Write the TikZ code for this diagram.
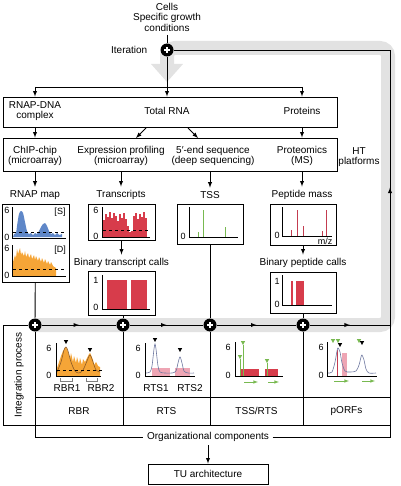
\documentclass[tikz,border=0pt]{standalone}
\usepackage{fontspec}
\setmainfont{Liberation Sans}
\usepackage{xcolor}
\usepackage{tikz}
\usetikzlibrary{arrows,positioning,decorations.markings}

\definecolor{loopgray}{RGB}{226,226,226}
\definecolor{chipblue}{RGB}{95,135,200}
\definecolor{chiporange}{RGB}{245,165,55}
\definecolor{exprred}{RGB}{215,60,75}
\definecolor{peakred}{RGB}{195,60,80}
\definecolor{tssgreen}{RGB}{120,185,80}
\definecolor{rtspink}{RGB}{238,165,180}
\definecolor{curvegray}{RGB}{110,120,160}
\definecolor{rbrbrown}{RGB}{140,90,40}

\tikzset{
  box/.style={draw, line width=0.9pt, inner sep=0pt},
  plusnode/.style={circle, fill=black, minimum size=13pt, inner sep=0pt,
    path picture={
      \draw[white, line width=1.3pt] ([xshift=-3pt]path picture bounding box.center) -- ([xshift=3pt]path picture bounding box.center);
      \draw[white, line width=1.3pt] ([yshift=-3pt]path picture bounding box.center) -- ([yshift=3pt]path picture bounding box.center);}},
  midarrow/.style={decoration={markings, mark=at position 0.5 with {\arrow{latex}}}, postaction={decorate}},
  ticklbl/.style={font=\fontsize{9}{9}\selectfont, inner sep=0pt},
  axis/.style={line width=0.7pt},
}

\newcommand{\peakmark}[3]{\fill[#3] (#1-2.2,#2-2) -- (#1+2.2,#2-2) -- (#1,#2+2) -- cycle;}

\begin{document}
\begin{tikzpicture}[x=1pt, y=-1pt, >=latex, line width=0.9pt,
  every node/.style={font=\fontsize{10}{10.5}\selectfont}]
    \useasboundingbox (0,0) rectangle (400,486);

    % iteration loop
    \draw[loopgray, line width=14pt, rounded corners=8pt] (35,325) -- (388,325) -- (388,48) -- (167,48) -- (167,65);
    \fill[loopgray] (151,64) -- (183,64) -- (167,82) -- cycle;

    % input
    \node[align=center] (cells) at (167,17) {Cells\\Specific growth\\conditions};
    \node[plusnode] (iter) at (167,50) {};
    \node[left=9pt of iter] (iterlbl) {Iteration};
    \draw (cells) -- (iter);

    % samples
    \node[box, minimum width=334pt, minimum height=30pt] (sources) at (170,112) {};
    \node[align=center] (rnapdna) at (35,111) {RNAP-DNA\\complex};
    \node (totalrna) at (167,111) {Total RNA};
    \node (proteins) at (302,111) {Proteins};

    \coordinate (split) at (167,87);
    \draw[->] (iter) -- (iter |- sources.north);
    \draw (rnapdna |- split) -- (proteins |- split);
    \draw[->] (rnapdna |- split) -- (rnapdna |- sources.north);
    \draw[->] (proteins |- split) -- (proteins |- sources.north);

    % HT platforms
    \node[box, minimum width=334pt, minimum height=33pt] (platforms) at (170,154.5) {};
    \node[align=center] (chip) at (35,156) {ChIP-chip\\(microarray)};
    \node[align=center] (expr) at (121,156) {Expression profiling\\(microarray)};
    \node[align=center] (deepseq) at (213,156) {5′-end sequence\\(deep sequencing)};
    \node[align=center] (ms) at (302,156) {Proteomics\\(MS)};
    \node[align=center] (htlbl) at (359,157) {HT\\platforms};

    \coordinate (rnal) at (146,128); \coordinate (exprin) at (136,138);
    \coordinate (rnar) at (188,128); \coordinate (seqin) at (198,138);
    \draw[->] (chip |- sources.south) -- (chip |- platforms.north);
    \draw[->] (rnal) -- (exprin);
    \draw[->] (rnar) -- (seqin);
    \draw[->] (ms |- sources.south) -- (ms |- platforms.north);

    % raw data
    \node (rnapmap) at (35,195) {RNAP map};
    \node (transcripts) at (121,195) {Transcripts};
    \node (tsslbl) at (210,195) {TSS};
    \node (pepmass) at (302,195) {Peptide mass};
    \draw[->] (chip |- platforms.south) -- (rnapmap);
    \draw[->] (expr |- platforms.south) -- (transcripts);
    \draw[->] (tsslbl |- platforms.south) -- (tsslbl);
    \draw[->] (ms |- platforms.south) -- (pepmass);

    \node[box, minimum width=67pt, minimum height=78pt] (rnapbox) at (35.5,243) {};
    \node[box, minimum width=67pt, minimum height=36pt] (transbox) at (121.5,222) {};
    \node[box, minimum width=66pt, minimum height=40pt] (tssbox) at (210,224) {};
    \node[box, minimum width=66pt, minimum height=41pt] (pepbox) at (303,224.5) {};

    \node (bincallslbl) at (121.5,263) {Binary transcript calls};
    \node (binpeplbl) at (303,263) {Binary peptide calls};
    \draw[->] (transbox) -- (bincallslbl);
    \draw[->] (pepbox) -- (binpeplbl);
    \node[box, minimum width=67pt, minimum height=44pt] (binbox) at (121.5,293) {};
    \node[box, minimum width=66pt, minimum height=41pt] (binpepbox) at (303,292.5) {};

    %% RNAP map [S]
    \fill[chipblue] (13,237) -- plot[smooth] coordinates {(14,234) (16,233) (17,226) (19,214) (21,211) (23,213) (25,222) (27,231) (29,234) (31,233) (33,235) (35,233) (37,234) (39,231) (41,227) (43,224) (45,223) (47,226) (49,231) (51,234) (53,233) (55,235) (57,233) (59,235) (62,234)} -- (62,237) -- cycle;
    \draw[dashed, axis] (13,232) -- (65,232);
    \draw[axis] (12,207) -- (12,238) -- (66,238);
    \node[ticklbl] at (7,210) {6};
    \node[ticklbl] at (7,237) {0};
    \node[ticklbl] at (60,212) {[S]};
    %% RNAP map [D]
    \fill[chiporange] (13,276) -- (13,262) -- (15,255) -- (16,258) -- (17,249) -- (18,254) -- (19,251) -- (20,248) -- (21,255) -- (22,252) -- (24,256) -- (25,251) -- (26,257) -- (28,253) -- (29,258) -- (31,254) -- (32,259) -- (34,255) -- (35,260) -- (36,256) -- (38,261) -- (39,257) -- (41,262) -- (42,258) -- (44,263) -- (45,259) -- (47,264) -- (48,261) -- (50,265) -- (51,262) -- (53,266) -- (56,268) -- (56,276) -- cycle;
    \draw[dashed, axis] (13,269) -- (65,269);
    \draw[axis] (12,245) -- (12,276) -- (66,276);
    \node[ticklbl] at (7,248) {6};
    \node[ticklbl] at (7,275) {0};
    \node[ticklbl] at (60,250) {[D]};

    %% transcripts
    \foreach \x/\t in {103/220,105/214,107/217,109/212,111/218,113/213,115/216,117/221,119/214,121/218,123/213,125/219,127/226,129/232,131/231,133/216,135/213,137/219,139/214,141/217,143/212,145/218}
      \fill[exprred] (\x,237) rectangle (\x+2,\t);
    \draw[dashed, axis] (103,230) -- (149,230);
    \draw[axis] (102,207) -- (102,237) -- (150,237);
    \node[ticklbl] at (96,210) {6};
    \node[ticklbl] at (96,236) {0};

    %% binary transcript calls
    \foreach \x in {107,109,...,125} \fill[exprred] (\x,309) rectangle (\x+1.5,280);
    \foreach \x in {131,133,...,145} \fill[exprred] (\x,309) rectangle (\x+1.5,280);
    \draw[axis] (102,275) -- (102,309) -- (150,309);
    \node[ticklbl] at (96,280) {1};
    \node[ticklbl] at (96,307) {0};

    %% TSS
    \foreach \x/\t in {198/232,203/210,225/227} \draw[tssgreen, line width=0.8pt] (\x,237) -- (\x,\t);
    \draw[axis] (189,207) -- (189,237) -- (238,237);
    \node[ticklbl] at (183,236) {0};

    %% peptide mass
    \foreach \x/\t in {291/230,297/210,303/226,322/231,326/210} \draw[peakred, line width=0.8pt] (\x,236) -- (\x,\t);
    \draw[axis] (282,207) -- (282,236) -- (332,236);
    \node[ticklbl] at (277,235) {0};
    \node[ticklbl] at (325,241) {m/z};

    %% binary peptide calls
    \draw[exprred, line width=1.2pt] (292,305) -- (292,281);
    \foreach \x in {296,298,...,302} \fill[exprred] (\x,305) rectangle (\x+1.5,281);
    \draw[axis] (282,275) -- (282,305) -- (332,305);
    \node[ticklbl] at (277,281) {1};
    \node[ticklbl] at (277,304) {0};

    % integration
    \node[plusnode] (p1) at (35,325) {};
    \node[plusnode] (p2) at (123,325) {};
    \node[plusnode] (p3) at (210,325) {};
    \node[plusnode] (p4) at (303,325) {};
    \coordinate (loopse) at (390,325);
    \coordinate (loopne) at (390,50);
    \draw (rnapbox) -- (p1);
    \draw (p2 |- binbox.south) -- (p2);
    \draw (p3 |- tssbox.south) -- (p3);
    \draw (p4 |- binpepbox.south) -- (p4);
    \draw[midarrow] (p1) -- (p2);
    \draw[midarrow] (p2) -- (p3);
    \draw[midarrow] (p3) -- (p4);
    \draw[midarrow] (p4) -- (loopse);
    \draw[midarrow] (loopse) -- (loopne);
    \draw (loopne) -- (iter);

    \node (orgcomp) at (208,437) {Organizational components};
    \draw (p1) -- (3,325) -- (3,425) -- (390,425);
    \draw (p1) -- (35,437) -- (orgcomp.west);
    \draw (orgcomp.east) -- (390,437) -- (loopse);
    \draw (p2) -- (123,425);
    \draw (p3) -- (210,425);
    \draw (p4) -- (303,425);
    \draw (35,397) -- (390,397);

    \node[rotate=90] (intlbl) at (19,375) {Integration process};
    \node (rbr) at (79,411) {RBR};
    \node (rts) at (166.5,411) {RTS};
    \node (tssrts) at (256.5,411) {TSS/RTS};
    \node (porfs) at (346.5,411) {pORFs};

    \node[box, minimum width=120pt, minimum height=20pt] (tuarch) at (208,474) {TU architecture};
    \draw[->] (orgcomp) -- (tuarch);

    %% RBR
    \fill[chiporange] (57,376) -- (57,368) -- (59,362) -- (61,356) -- (63,351) -- (65,348) -- (66,347) -- (67,349) -- (69,355) -- (70,359) -- (71,353) -- (73,362) -- (74,356) -- (76,363) -- (77,357) -- (79,364) -- (80,358) -- (82,365) -- (83,359) -- (85,362) -- (87,358) -- (89,354) -- (90,353) -- (91,355) -- (93,360) -- (94,365) -- (96,362) -- (98,366) -- (100,367) -- (100,376) -- cycle;
    \draw[rbrbrown, line width=0.6pt] plot[smooth] coordinates {(57,372) (61,362) (64,350) (66,347) (68,351) (71,362) (75,371) (79,373) (83,370) (87,361) (90,355) (93,362) (96,370) (100,372)};
    \draw[dashed, axis] (57,370) -- (102,370);
    \draw[axis] (56,343) -- (56,376) -- (101,376);
    \draw[gray, line width=0.5pt] (60,378) -- (60,381) -- (72,381) -- (72,378);
    \draw[gray, line width=0.5pt] (86,378) -- (86,381) -- (97,381) -- (97,378);
    \peakmark{66}{342}{black}
    \peakmark{90}{350}{black}
    \node[ticklbl] at (49,348) {6};
    \node[ticklbl] at (49,375) {0};
    \node at (67,388) {RBR1};
    \node at (101,388) {RBR2};

    %% RTS
    \fill[rtspink] (152,368) rectangle (170,376);
    \fill[rtspink] (175,368) rectangle (190,376);
    \draw[curvegray, line width=0.6pt] plot[smooth] coordinates {(146,373) (150,372) (152,366) (154,349) (155,344) (156,349) (158,366) (160,372) (165,373) (172,373) (176,371) (178,363) (180,357) (182,363) (184,371) (188,373) (194,373)};
    \draw[axis] (145,343) -- (145,376) -- (195,376);
    \peakmark{155}{340}{black}
    \peakmark{180}{350}{black}
    \node[ticklbl] at (138,348) {6};
    \node[ticklbl] at (138,375) {0};
    \node at (156,388) {RTS1};
    \node at (190,388) {RTS2};

    %% TSS/RTS
    \fill[exprred] (241,369) rectangle (259,376);
    \fill[exprred] (265,369) rectangle (278,376);
    \draw[tssgreen, line width=0.7pt] (243,376) -- (243,345);
    \draw[tssgreen, line width=0.7pt] (240,376) -- (240,359);
    \draw[tssgreen, line width=0.7pt] (267,376) -- (267,363);
    \peakmark{243}{343}{tssgreen}
    \peakmark{240}{357}{tssgreen}
    \peakmark{267}{361}{tssgreen}
    \draw[axis] (235,342) -- (235,376) -- (283,376);
    \draw[tssgreen, ->, line width=0.6pt] (244,382) -- (258,382);
    \draw[tssgreen, ->, line width=0.6pt] (268,382) -- (279,382);
    \node[ticklbl] at (228,347) {6};
    \node[ticklbl] at (228,375) {0};

    %% pORFs
    \fill[rtspink] (342,353) rectangle (347,376);
    \draw[peakred, line width=0.8pt] (337,376) -- (337,350);
    \draw[curvegray, line width=0.6pt] plot[smooth] coordinates {(328,373) (332,372) (335,362) (337,351) (338,348) (340,352) (342,363) (345,371) (350,372) (356,371) (359,365) (361,357) (362,355) (364,360) (366,369) (369,373) (376,373)};
    \draw[axis] (327,342) -- (327,376) -- (377,376);
    \peakmark{333}{341}{tssgreen}
    \peakmark{338}{341}{tssgreen}
    \peakmark{340}{345}{black}
    \peakmark{359}{341}{tssgreen}
    \peakmark{362}{343}{black}
    \draw[tssgreen, ->, line width=0.6pt] (334,381) -- (349,381);
    \draw[tssgreen, ->, line width=0.6pt] (362,381) -- (375,381);
    \node[ticklbl] at (321,347) {6};
    \node[ticklbl] at (321,375) {0};
\end{tikzpicture}
\end{document}
